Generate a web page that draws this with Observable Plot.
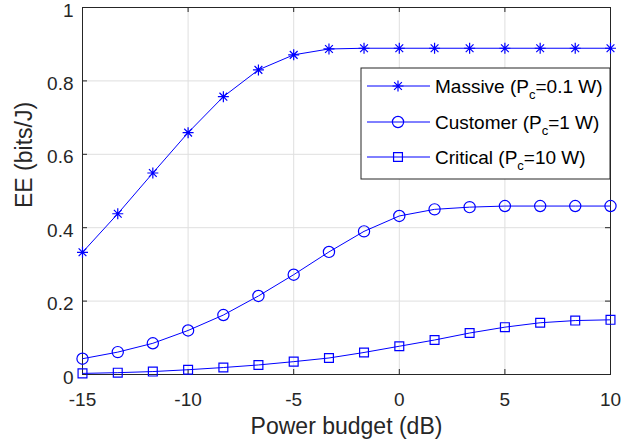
<!DOCTYPE html>
<html><head><meta charset="utf-8">
<script src="https://cdn.jsdelivr.net/npm/d3@7"></script>
<script src="https://cdn.jsdelivr.net/npm/@observablehq/plot@0.6"></script>
<style>
body{margin:0;background:#fff}
svg{font-family:"Liberation Sans",Arial,Helvetica,sans-serif}
</style>
</head><body><div id="chart"></div>
<script>
// ---- data ----
const powerBudget = [-15, -13.33, -11.67, -10, -8.33, -6.67, -5, -3.33, -1.67, 0, 1.67, 3.33, 5, 6.67, 8.33, 10];
const massive  = [0.333, 0.438, 0.549, 0.659, 0.757, 0.830, 0.871, 0.887, 0.889, 0.889, 0.889, 0.889, 0.889, 0.889, 0.889, 0.889];
const customer = [0.043, 0.061, 0.085, 0.120, 0.162, 0.214, 0.272, 0.334, 0.390, 0.432, 0.450, 0.456, 0.459, 0.459, 0.459, 0.459];
const critical = [0.003, 0.005, 0.008, 0.013, 0.019, 0.026, 0.035, 0.045, 0.060, 0.077, 0.094, 0.113, 0.129, 0.141, 0.147, 0.149];
const xTicks = [-15, -10, -5, 0, 5, 10];
const yTicks = [0, 0.2, 0.4, 0.6, 0.8, 1];
const seriesNames = ["Massive", "Customer", "Critical"];
const seriesPc = ["0.1 W", "1 W", "10 W"];
const xLabel = "Power budget (dB)";
const yLabel = "EE (bits/J)";

const seriesValues = [massive, customer, critical];
const rows = seriesNames.flatMap((s, k) => powerBudget.map((x, i) => ({x, y: seriesValues[k][i], s})));

// MATLAB-like 8-arm asterisk
const asterisk8 = {
  draw(ctx, size) {
    const r = Math.sqrt(size / Math.PI), d = r * Math.SQRT1_2;
    ctx.moveTo(-r, 0); ctx.lineTo(r, 0);
    ctx.moveTo(0, -r); ctx.lineTo(0, r);
    ctx.moveTo(-d, -d); ctx.lineTo(d, d);
    ctx.moveTo(-d, d); ctx.lineTo(d, -d);
  }
};
const symbols = {Massive: asterisk8, Customer: d3.symbolCircle, Critical: d3.symbolSquare};
const radii = {Massive: 5.5, Customer: 5.6, Critical: 5.0};

const blue = "#0000ff";
const ink = "#262626";
const W = 640, H = 445, mL = 82, mR = 30, mT = 7, mB = 71;
const frameW = W - mL - mR, frameH = H - mT - mB, tickLen = 5;

const plot = Plot.plot({
  width: W, height: H,
  marginLeft: mL, marginRight: mR, marginTop: mT, marginBottom: mB,
  x: {domain: [-15, 10]},
  y: {domain: [0, 1]},
  style: {fontFamily: '"Liberation Sans", Arial, sans-serif', background: "#fff", overflow: "visible"},
  marks: [
    Plot.gridX(xTicks, {stroke: "#dfdfdf", strokeOpacity: 1}),
    Plot.gridY(yTicks, {stroke: "#dfdfdf", strokeOpacity: 1}),
    // inward tick marks on all four sides
    Plot.tickX(xTicks, {x: d => d, stroke: ink, insetTop: frameH - tickLen}),
    Plot.tickX(xTicks, {x: d => d, stroke: ink, insetBottom: frameH - tickLen}),
    Plot.tickY(yTicks, {y: d => d, stroke: ink, insetRight: frameW - tickLen}),
    Plot.tickY(yTicks, {y: d => d, stroke: ink, insetLeft: frameW - tickLen}),
    Plot.axisX(xTicks, {anchor: "bottom", tickSize: 0, tickPadding: 17.5, tickFormat: d => String(d), fontSize: 19, color: ink, label: null}),
    Plot.axisY(yTicks, {anchor: "left", tickSize: 0, tickPadding: 9, dy: 3, tickFormat: d => String(d), fontSize: 19, color: ink, label: null}),
    Plot.frame({stroke: ink}),
    Plot.line(rows, {x: "x", y: "y", z: "s", stroke: blue, strokeWidth: 1}),
    ...seriesNames.map(s => Plot.dot(rows.filter(d => d.s === s), {
      x: "x", y: "y", symbol: symbols[s], r: radii[s], stroke: blue, fill: "none", strokeWidth: 1.2
    })),
    Plot.text([xLabel], {text: d => d, frameAnchor: "bottom", dy: 52, lineAnchor: "middle", fontSize: 23, fill: ink}),
    Plot.text([yLabel], {text: d => d, frameAnchor: "left", dx: -58, dy: 17, rotate: -90, lineAnchor: "middle", fontSize: 23, fill: ink})
  ]
});
document.getElementById("chart").appendChild(plot);

// ---- legend (annotation) ----
const svg = d3.select(plot);
const right = W - mR;
const lg = svg.append("g").attr("class", "legend").attr("text-anchor", "start");
const boxX = right - 249, boxY = 68, boxW = 249, boxH = 111;
lg.append("rect").attr("x", boxX).attr("y", boxY).attr("width", boxW).attr("height", boxH)
  .attr("fill", "#fff").attr("stroke", ink).attr("stroke-width", 1);
const rowY = [86, 122, 157];
seriesNames.forEach((s, k) => {
  const y = rowY[k];
  lg.append("line").attr("x1", boxX + 6).attr("x2", boxX + 69).attr("y1", y).attr("y2", y)
    .attr("stroke", blue).attr("stroke-width", 1);
  const r = radii[s];
  lg.append("path").attr("transform", `translate(${boxX + 37},${y})`)
    .attr("d", d3.symbol(symbols[s], r * r * Math.PI)())
    .attr("fill", "none").attr("stroke", blue).attr("stroke-width", 1.2);
  const t = lg.append("text").attr("x", boxX + 74).attr("y", y + 7)
    .attr("font-size", 19).attr("fill", "#000").attr("text-anchor", "start");
  t.append("tspan").text(s + " (P");
  t.append("tspan").attr("font-size", 13).attr("dy", 6).text("c");
  t.append("tspan").attr("dy", -6).text("=" + seriesPc[k] + ")");
});
</script>
</body></html>
